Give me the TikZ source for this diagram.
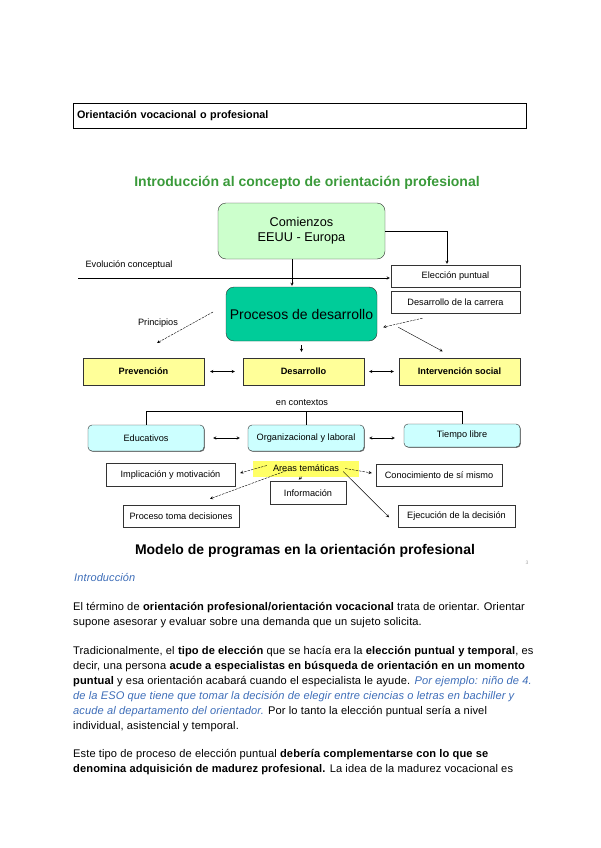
\documentclass[tikz,border=0pt]{standalone}
\usepackage{fontspec}
\setmainfont{Liberation Sans}
\newfontfamily\bodyfont[LetterSpace=1]{Liberation Sans}
\usetikzlibrary{arrows, calc, shadows}

\definecolor{titlegreen}{HTML}{3A9A3A}
\definecolor{textblue}{HTML}{3D6DB8}
\definecolor{startgreen}{HTML}{CCFFCC}
\definecolor{procgreen}{HTML}{00CC99}
\definecolor{boxyellow}{HTML}{FFFF99}
\definecolor{marker}{HTML}{FFFF66}
\definecolor{boxcyan}{HTML}{CCFFFF}

\begin{document}
\begin{tikzpicture}[
        x=1pt, y=-1pt,
        >=stealth,
        small/.style={font=\fontsize{9.2}{11}\selectfont},
        box/.style={small, draw=black!80, fill=white, inner sep=0pt,
            drop shadow={shadow xshift=0.8pt, shadow yshift=-0.8pt, fill=black!55, opacity=1}},
        yellowbox/.style={box, fill=boxyellow, font=\fontsize{9.2}{11}\selectfont\bfseries},
        cyanbox/.style={box, fill=boxcyan, rounded corners=4pt},
        bigbox/.style={draw=black!80, rounded corners=8pt, inner sep=0pt, align=center},
        pile/.style={->, thin, shorten >=1pt},
        dashed line/.style={->, thin, dash pattern=on 2.5pt off 1pt},
        line/.style={font=\bodyfont\fontsize{11.1}{13}\selectfont, anchor=base west, inner sep=0pt}
    ]
    \useasboundingbox (0,0) rectangle (600,848);

    %% heading of the page
    \node[draw=black, minimum width=453pt, minimum height=25pt, text width=445pt,
        align=left, font=\fontsize{10.8}{12}\selectfont\bfseries] (hdr) at (299.5,115.5)
        {Orientación vocacional o profesional};

    \node[font=\fontsize{14}{16}\selectfont\bfseries, text=titlegreen] (title) at (307,183)
        {Introducción al concepto de orientación profesional};

    \node[bigbox, fill=startgreen, minimum width=167pt, minimum height=56pt,
        font=\fontsize{12.7}{15}\selectfont] (com) at (301.5,231) {Comienzos\\EEUU - Europa};
    \node[bigbox, fill=procgreen, minimum width=151pt, minimum height=54pt,
        font=\fontsize{14}{16}\selectfont] (proc) at (301.5,314) {Procesos de desarrollo};

    \node[box, minimum width=129pt, minimum height=22pt] (elec) at (455.5,276) {Elección puntual};
    \node[box, minimum width=129pt, minimum height=22pt] (carr) at (455.5,302) {Desarrollo de la carrera};

    \node[small, anchor=west] (evo) at (82,265) {Evolución conceptual};
    \coordinate (evostart) at (78,278);
    \draw[pile] (evostart) -- (evostart -| elec.west);

    \draw[pile] (com.east) -| ([xshift=-8.5pt]elec.north);
    \draw[pile] ([xshift=-9.5pt]com.south) -- ([xshift=-9.5pt]com.south |- proc.north);

    \node[yellowbox, minimum width=121pt, minimum height=27pt] (prev) at (143.5,371.5) {Prevención};
    \node[yellowbox, minimum width=121pt, minimum height=27pt] (des) at (303.5,371.5) {Desarrollo};
    \node[yellowbox, minimum width=121pt, minimum height=27pt] (int) at (459.5,371.5) {Intervención social};

    \node[small] (prin) at (158,323) {Principios};
    \coordinate (pa) at (213,312);
    \coordinate (pb) at (157,343);
    \draw[dashed line] (pa) -- (pb);
    \draw[dashed line] ($(carr.south)+(-33,5)$) -- ($(proc.south east)+(6,-14)$);
    \draw[pile] ($(proc.south east)+(21,-14)$) -- ($(int.north)+(-16,-6)$);
    \draw[pile, shorten <=4pt, shorten >=6pt] (proc.south) -- (proc.south |- des.north);

    \draw[<->, shorten <=6pt, shorten >=8pt] (prev) -- (des);
    \draw[<->, shorten <=5pt, shorten >=5pt] (des) -- (int);

    %% contexts
    \node[cyanbox, minimum width=116pt, minimum height=26pt] (edu) at (146,438) {Educativos};
    \node[cyanbox, minimum width=116pt, minimum height=26pt] (org) at (306,438) {Organizacional y laboral};
    \node[cyanbox, minimum width=116pt, minimum height=23pt] (tie) at (462,435.5) {Tiempo libre};

    \node[small] (ctx) at (302,403) {en contextos};
    \draw[thick] (edu.north) |- (304,411);
    \draw (304,411) -| (tie.north);
    \draw (org.north) -- (org.north |- 0,411);

    \draw[<->, shorten <=9pt, shorten >=8pt] (edu) -- (org);
    \draw[<->, shorten <=5pt, shorten >=9pt] (org.east) -- (org.east -| tie.west);

    %% thematic areas
    \node[small, fill=marker, minimum width=106pt, minimum height=16pt, inner sep=0pt] (areas)
        at (306,468.5) {Areas temáticas};
    \node[box, minimum width=129pt, minimum height=23pt] (impl) at (170.5,475) {Implicación y motivación};
    \node[box, minimum width=126pt, minimum height=22pt] (con) at (439,475) {Conocimiento de sí mismo};
    \node[box, minimum width=76pt, minimum height=23pt] (info) at (308,493) {Información};
    \node[box, minimum width=116pt, minimum height=22pt] (toma) at (181,516) {Proceso toma decisiones};
    \node[box, minimum width=117pt, minimum height=22pt] (ejec) at (456.5,516) {Ejecución de la decisión};

    \draw[dashed line] ($(areas.west)+(14,-3)$) -- ($(impl.east)+(5,-2)$);
    \draw[dashed line] ($(areas.west)+(34,2)$) -- ($(toma.north)+(29,-6)$);
    \draw[pile] ($(areas.south)+(-4,0)$) -- ($(info.north)+(-10,-1)$);
    \draw[dashed line] ($(areas.east)+(-14,0)$) -- ($(con.west)+(-4,-2)$);
    \draw[pile] ($(areas.east)+(-16,3)$) -- ($(ejec.west)+(-8,2)$);

    \node[font=\fontsize{14}{16}\selectfont\bfseries] (title2) at (305,551)
        {Modelo de programas en la orientación profesional};
    \node[font=\fontsize{5}{6}\selectfont, text=black!35] (num) at (527,563) {3};

    %% running text
    \node[line, font=\bodyfont\fontsize{11}{13}\selectfont\itshape, text=textblue] (intro) at (74,581.5) {Introducción};
    \node[line] (l1) at (73,610.5) {El término de \textbf{orientación profesional/orientación vocacional} trata de orientar. Orientar};
    \node[line] (l2) at (73,625.5) {supone asesorar y evaluar sobre una demanda que un sujeto solicita.};
    \node[line] (l3) at (73,654.5) {Tradicionalmente, el \textbf{tipo de elección} que se hacía era la \textbf{elección puntual y temporal}, es};
    \node[line] (l4) at (73,669.5) {decir, una persona \textbf{acude a especialistas en búsqueda de orientación en un momento}};
    \node[line] (l5) at (73,684.5) {\textbf{puntual} y esa orientación acabará cuando el especialista le ayude. {\color{textblue}\itshape Por ejemplo: niño de 4.}};
    \node[line, text=textblue, font=\bodyfont\fontsize{11.1}{13}\selectfont\itshape] (l6) at (73,699.5) {de la ESO que tiene que tomar la decisión de elegir entre ciencias o letras en bachiller y};
    \node[line] (l7) at (73,714.5) {{\color{textblue}\itshape acude al departamento del orientador.} Por lo tanto la elección puntual sería a nivel};
    \node[line] (l8) at (73,729.5) {individual, asistencial y temporal.};
    \node[line] (l9) at (73,757.5) {Este tipo de proceso de elección puntual \textbf{debería complementarse con lo que se}};
    \node[line] (l10) at (73,772.5) {\textbf{denomina adquisición de madurez profesional.} La idea de la madurez vocacional es};

\end{tikzpicture}
\end{document}
